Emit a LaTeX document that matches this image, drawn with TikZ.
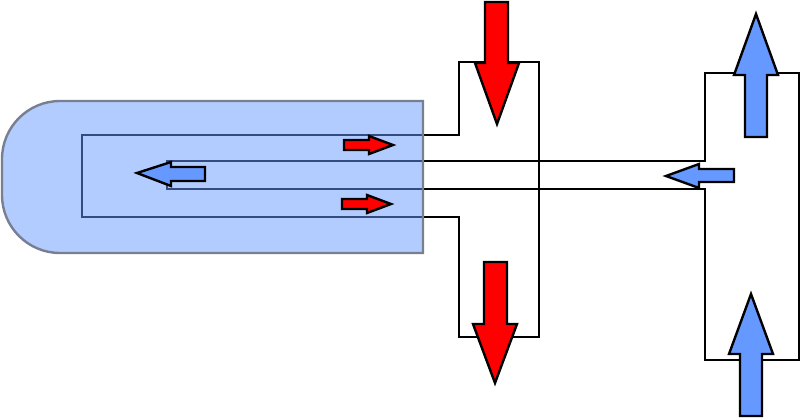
\documentclass[tikz,border=0pt]{standalone}
\definecolor{flowred}{HTML}{FF0000}
\definecolor{flowblue}{HTML}{6699FF}
\definecolor{edgegray}{HTML}{787F90}
\tikzset{
  pipe/.style={draw=black,line width=2.4pt,line join=miter,line cap=rect},
  jacket/.style={fill=flowblue,fill opacity=0.5,draw=edgegray,draw opacity=1,line width=2.4pt},
  redarrow/.style={draw=black,fill=flowred,line width=2.4pt,line join=miter,miter limit=10},
  bluearrow/.style={draw=black,fill=flowblue,line width=2.4pt,line join=miter,miter limit=10}
}
\begin{document}
\begin{tikzpicture}[x=1pt,y=-1pt]
\useasboundingbox (0,0) rectangle (800,418);
% pipes
\draw[pipe] (82,135) -- (459,135) -- (459,62) -- (539,62) -- (539,337) -- (459,337) -- (459,217) -- (82,217) -- cycle;
\draw[pipe] (705,161) -- (167,161) -- (167,189) -- (705,189);
\draw[pipe] (705,161) -- (705,73) -- (799,73) -- (799,360) -- (705,360) -- (705,189);
% translucent body
\draw[jacket] (60,101) -- (423,101) -- (423,253) -- (60,253)
  .. controls (28,253) and (2,227) .. (2,195) -- (2,159)
  .. controls (2,127) and (28,101) .. (60,101) -- cycle;
% red arrows
\draw[redarrow] (485,2) -- (508,2) -- (508,63) -- (519,63) -- (497,124) -- (475,63) -- (485,63) -- cycle;
\draw[redarrow] (484,262) -- (507,262) -- (507,324) -- (517,324) -- (495,383) -- (473,324) -- (484,324) -- cycle;
\draw[redarrow] (344,140) -- (369,140) -- (369,136) -- (393,145) -- (369,154) -- (369,150) -- (344,150) -- cycle;
\draw[redarrow] (342,199) -- (367,199) -- (367,195) -- (391,204) -- (367,213) -- (367,209) -- (342,209) -- cycle;
% blue arrows
\draw[bluearrow] (745,137) -- (767,137) -- (767,75) -- (778,75) -- (756,14) -- (734,75) -- (745,75) -- cycle;
\draw[bluearrow] (740,416) -- (762,416) -- (762,354) -- (773,354) -- (751,294) -- (729,354) -- (740,354) -- cycle;
\draw[bluearrow] (734,169) -- (699,169) -- (699,164) -- (666,176) -- (699,188) -- (699,182) -- (734,182) -- cycle;
\draw[bluearrow] (205,167) -- (171,167) -- (171,162) -- (137,173) -- (171,186) -- (171,181) -- (205,181) -- cycle;
\end{tikzpicture}
\end{document}
